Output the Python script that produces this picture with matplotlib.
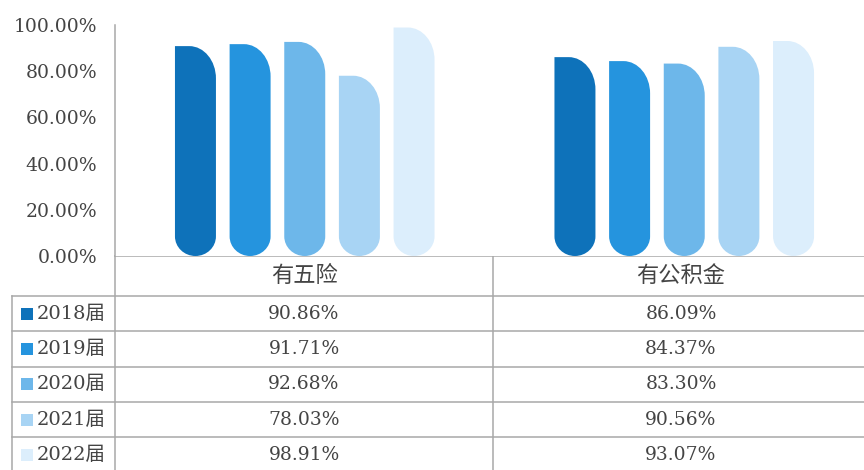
import matplotlib
matplotlib.use("Agg")
import matplotlib.pyplot as plt
from matplotlib.path import Path
from matplotlib.patches import PathPatch, Rectangle
from matplotlib.lines import Line2D

categories = ["有五险", "有公积金"]
years = ["2018届", "2019届", "2020届", "2021届", "2022届"]
wuxian = [90.86, 91.71, 92.68, 78.03, 98.91]
gongjijin = [86.09, 84.37, 83.30, 90.56, 93.07]
colors = ["#0E72BA", "#2594DE", "#6DB7EA", "#A8D4F4", "#DCEEFC"]
yticks = [0, 20, 40, 60, 80, 100]

W, H = 864, 470
FONT = ["DejaVu Serif", "Noto Sans CJK SC"]
TXT = "#444444"
GRID = "#a8a8a8"

fig = plt.figure(figsize=(W / 100, H / 100), dpi=100)

# chart area, in pixel terms: x 115..874, y 25..256
ax = fig.add_axes([115 / W, 1 - 256 / H, 759 / W, 231 / H])
ax.set_xlim(-0.5, 1.5)
ax.set_ylim(0, 100)

bw = 0.108      # bar width (x units)
pitch = 0.144   # distance between bars of one group
ryt = 14.0      # top corner radius (y units)
ryb = 8.5       # bottom rounding (y units)
k = 0.5523


def rounded_bar(xc, h):
    x0, x1 = xc - bw / 2, xc + bw / 2
    rxt = 0.65 * bw
    rxb = bw / 2
    verts = [
        (x0, ryb), (x0, h), (x1 - rxt, h),
        (x1 - rxt + k * rxt, h), (x1, h - ryt + k * ryt), (x1, h - ryt),
        (x1, ryb),
        (x1, ryb - k * ryb), (xc + k * rxb, 0), (xc, 0),
        (xc - k * rxb, 0), (x0, ryb - k * ryb), (x0, ryb),
        (x0, ryb),
    ]
    codes = [Path.MOVETO, Path.LINETO, Path.LINETO,
             Path.CURVE4, Path.CURVE4, Path.CURVE4,
             Path.LINETO,
             Path.CURVE4, Path.CURVE4, Path.CURVE4,
             Path.CURVE4, Path.CURVE4, Path.CURVE4,
             Path.CLOSEPOLY]
    return Path(verts, codes)


for ci, vals in enumerate([wuxian, gongjijin]):
    for si, v in enumerate(vals):
        xc = ci + (si - 2) * pitch
        ax.add_patch(PathPatch(rounded_bar(xc, v), facecolor=colors[si],
                               edgecolor="none"))

ax.set_yticks(yticks)
ax.set_yticklabels([f"{t:.2f}%" for t in yticks], family=FONT, fontsize=13.5,
                   color=TXT)
ax.tick_params(axis="y", length=0, pad=13)
ax.set_xticks([])
for s in ["top", "right", "bottom"]:
    ax.spines[s].set_visible(False)
ax.spines["left"].set_color(GRID)
ax.spines["left"].set_linewidth(1.1)

# data table below the chart, drawn on a pixel-space overlay
tab = fig.add_axes([0, 0, 1, 1], zorder=-1)
tab.set_xlim(0, W)
tab.set_ylim(H, 0)
tab.axis("off")


def hline(y, xa, xb):
    tab.add_line(Line2D([xa, xb], [y, y], color=GRID, lw=1.1))


def vline(x, ya, yb):
    tab.add_line(Line2D([x, x], [ya, yb], color=GRID, lw=1.1))


row_top = 296
row_h = 35.3
col_x = [304, 681]
hline(256, 115, W)
for r in range(len(years)):
    hline(row_top + r * row_h, 12, W)
vline(12, row_top, H)
vline(115, 256, H)
vline(493, 256, H)

for ci, cat in enumerate(categories):
    tab.text(col_x[ci], 276, cat, ha="center", va="center", fontsize=16,
             family=FONT, color=TXT)

for r, yr in enumerate(years):
    yc = row_top + (r + 0.5) * row_h
    tab.add_patch(Rectangle((21, yc - 6), 12, 12, facecolor=colors[r],
                            edgecolor="none"))
    tab.text(37, yc, yr, ha="left", va="center", fontsize=14,
             family=FONT, color=TXT)
    for ci, vals in enumerate([wuxian, gongjijin]):
        tab.text(col_x[ci], yc, f"{vals[r]:.2f}%", ha="center", va="center",
                 fontsize=13.5, family=FONT, color=TXT)

fig.savefig("out.png", dpi=100)
